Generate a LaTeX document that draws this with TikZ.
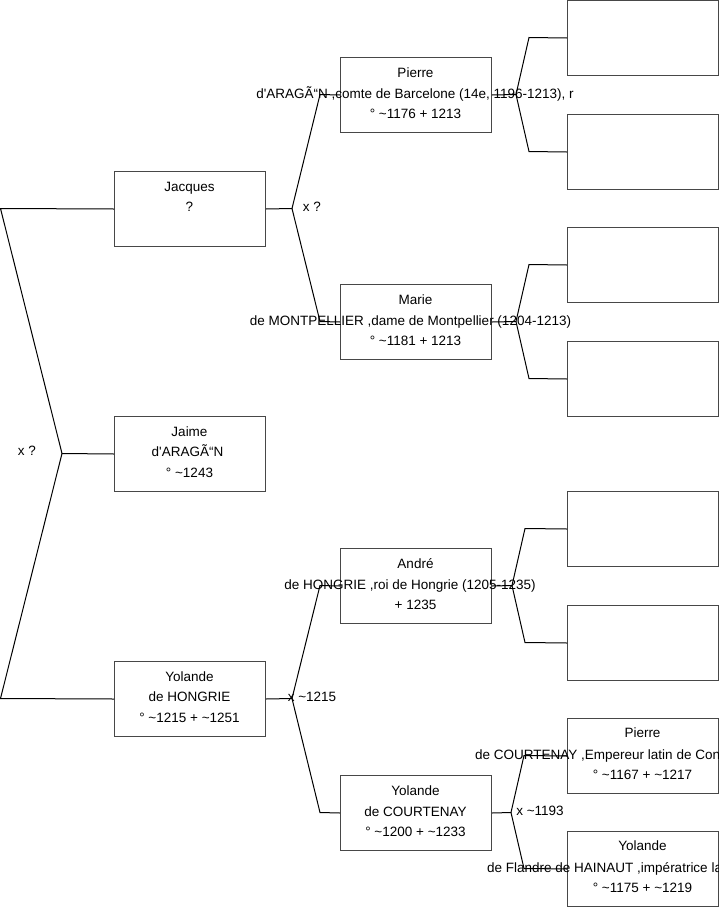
\documentclass[tikz,border=0pt]{standalone}
\usepackage{fontspec}
\setmainfont{Liberation Sans}
\newcommand\ptilde{\textasciitilde}
\newcommand\apos{\textquotesingle}
\begin{document}
\begin{tikzpicture}[x=1pt,y=-1pt,
  pbox/.style={draw=black!72, line width=1pt, minimum width=151pt, minimum height=75pt, anchor=north west, inner sep=0pt},
  txt/.style={font=\fontsize{13.5}{15}\selectfont, inner sep=0pt, text height=9.5pt, text depth=2.5pt},
  lbl/.style={txt},
  conn/.style={draw=black, line width=1pt},
]
\useasboundingbox (0,0) rectangle (719,908);

% boxes
\node[pbox] (jacques) at (114,171) {};
\node[pbox] (jaime)   at (114,416) {};
\node[pbox] (yolande) at (114,661) {};
\node[pbox] (pierre)  at (340,57) {};
\node[pbox] (marie)   at (340,284) {};
\node[pbox] (andre)   at (340,548) {};
\node[pbox] (yolc)    at (340,775) {};
\node[pbox] (e1)      at (567,0) {};
\node[pbox] (e2)      at (567,114) {};
\node[pbox] (e3)      at (567,227) {};
\node[pbox] (e4)      at (567,341) {};
\node[pbox] (e5)      at (567,491) {};
\node[pbox] (e6)      at (567,605) {};
\node[pbox] (pierrec) at (567,718) {};
\node[pbox] (yolf)    at (567,831) {};

% texts
\node[txt] (jacques1) at (189.5,171+16.5) {Jacques};
\node[txt] (jacques2) at (189.5,171+36.5) {?};

\node[txt] (jaime1) at (189.5,416+16.5) {Jaime};
\node[txt] (jaime2) at (187.5,416+37) {d\apos ARAGÃ“N};
\node[txt] (jaime3) at (189.5,416+57.5) {° \ptilde1243};

\node[txt] (yol1) at (189.5,661+16.5) {Yolande};
\node[txt] (yol2) at (189.5,661+37) {de HONGRIE};
\node[txt] (yol3) at (189.5,661+57.5) {° \ptilde1215 + \ptilde1251};

\node[txt] (pierre1) at (415.5,57+16.5) {Pierre};
\node[txt] (pierre2) at (415,57+37.5) {d\apos ARAGÃ“N ,comte de Barcelone (14e, 1196-1213), r};
\node[txt] (pierre3) at (415.5,57+57.5) {° \ptilde1176 + 1213};

\node[txt] (marie1) at (415.5,284+16.5) {Marie};
\node[txt] (marie2) at (410.5,284+37.5) {de MONTPELLIER ,dame de Montpellier (1204-1213)};
\node[txt] (marie3) at (415.5,284+57.5) {° \ptilde1181 + 1213};

\node[txt] (andre1) at (415.5,548+16.5) {André};
\node[txt] (andre2) at (410,548+37.5) {de HONGRIE ,roi de Hongrie (1205-1235)};
\node[txt] (andre3) at (415.5,548+57.5) {+ 1235};

\node[txt] (yolc1) at (415.5,775+16.5) {Yolande};
\node[txt] (yolc2) at (415.5,775+37.5) {de COURTENAY};
\node[txt] (yolc3) at (415.5,775+57.5) {° \ptilde1200 + \ptilde1233};

\node[txt] (pc1) at (642.5,718+16) {Pierre};
\node[txt,anchor=west] (pc2) at (475,718+37.5) {de COURTENAY ,Empereur latin de Cons};
\node[txt] (pc3) at (642.5,718+57.5) {° \ptilde1167 + \ptilde1217};

\node[txt] (yf1) at (642.5,831+16) {Yolande};
\node[txt,anchor=west] (yf2) at (487,831+37.5) {de Flandre de HAINAUT ,impératrice la};
\node[txt] (yf3) at (642.5,831+57.5) {° \ptilde1175 + \ptilde1219};

% labels
\node[lbl] (lroot) at (27,452) {x ?};
\node[lbl] (ljac)  at (312,207.5) {x ?};
\node[lbl] (lyol)  at (312,697.5) {x \ptilde1215};
\node[lbl] (lyolc) at (540,811.5) {x \ptilde1193};

% connector bends
\coordinate (r0) at (62,453.5);
\coordinate (r1) at (0.5,208.5);
\coordinate (r2) at (0.5,698.5);
\coordinate (v1) at (292,208.5);
\coordinate (v1a) at (320,94.5);
\coordinate (v1b) at (320,321.5);
\coordinate (v2) at (292,698.5);
\coordinate (v2a) at (320,585.5);
\coordinate (v2b) at (320,812.5);
\coordinate (v3) at (516,94.5);
\coordinate (v3a) at (529,37.5);
\coordinate (v3b) at (529,151.5);
\coordinate (v4) at (516,321.5);
\coordinate (v4a) at (529,264.5);
\coordinate (v4b) at (529,378.5);
\coordinate (v5) at (512,585.5);
\coordinate (v5a) at (525,528.5);
\coordinate (v5b) at (525,642.5);
\coordinate (v6) at (511,812.5);
\coordinate (v6a) at (524,755.5);
\coordinate (v6b) at (524,868.5);

% connectors
\draw[conn] (jaime.west) -- (r0) -- (r1) -- (jacques.west);
\draw[conn] (r0) -- (r2) -- (yolande.west);
\draw[conn] (jacques.east) -- (v1) -- (v1a) -- (pierre.west);
\draw[conn] (v1) -- (v1b) -- (marie.west);
\draw[conn] (yolande.east) -- (v2) -- (v2a) -- (andre.west);
\draw[conn] (v2) -- (v2b) -- (yolc.west);
\draw[conn] (pierre.east) -- (v3) -- (v3a) -- (e1.west);
\draw[conn] (v3) -- (v3b) -- (e2.west);
\draw[conn] (marie.east) -- (v4) -- (v4a) -- (e3.west);
\draw[conn] (v4) -- (v4b) -- (e4.west);
\draw[conn] (andre.east) -- (v5) -- (v5a) -- (e5.west);
\draw[conn] (v5) -- (v5b) -- (e6.west);
\draw[conn] (yolc.east) -- (v6) -- (v6a) -- (pierrec.west);
\draw[conn] (v6) -- (v6b) -- (yolf.west);
\end{tikzpicture}
\end{document}
